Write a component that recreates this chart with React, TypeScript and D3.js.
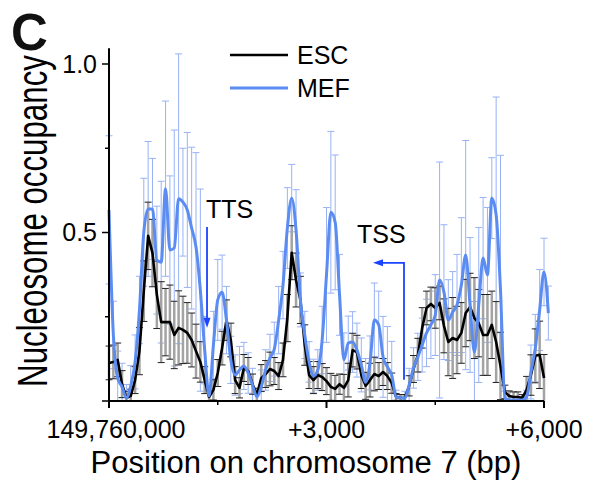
import React from 'react';
import * as d3 from 'd3';

// sampling grid: one value every 60 bp
const STEP_BP = 60;

const escValues = [
  0.113, 0.116, 0.122, 0.050, 0.009, 0.015, 0.062, 0.148, 0.326, 0.490,
  0.439, 0.315, 0.234, 0.234, 0.234, 0.196, 0.217, 0.211, 0.202, 0.181,
  0.148, 0.116, 0.062, 0.012, 0.033, 0.083, 0.157, 0.240, 0.181, 0.062,
  0.039, 0.098, 0.089, 0.050, 0.018, 0.068, 0.080, 0.095, 0.089, 0.074,
  0.122, 0.246, 0.440, 0.359, 0.300, 0.166, 0.077, 0.062, 0.077, 0.071,
  0.059, 0.042, 0.036, 0.050, 0.039, 0.062, 0.151, 0.145, 0.077, 0.045,
  0.062, 0.080, 0.074, 0.086, 0.074, 0.053, 0.012, 0.009, 0.009, 0.045,
  0.095, 0.136, 0.217, 0.276, 0.288, 0.276, 0.291, 0.223, 0.175, 0.187,
  0.181, 0.202, 0.261, 0.279, 0.246, 0.231, 0.196, 0.196, 0.226, 0.175,
  0.104, 0.027, 0.015, 0.012, 0.012, 0.009, 0.033, 0.077, 0.134, 0.137,
  0.068,
];
const escErrors = [
  0.05, 0.05, 0.05, 0.04, 0.02, 0.02, 0.04,
  0.07, 0.09, 0.1, 0.1,
  0.1, 0.12, 0.1, 0.11, 0.1, 0.11, 0.1, 0.09, 0.08, 0.08,
  0.06, 0.04, 0.02, 0.03, 0.04,
  0.05, 0.06, 0.05,
  0.04, 0.03, 0.04, 0.04, 0.03, 0.02, 0.04, 0.04, 0.05, 0.04, 0.04, 0.05,
  0.07, 0.08, 0.08, 0.07, 0.06,
  0.04, 0.04, 0.04, 0.04, 0.04, 0.04, 0.04, 0.03, 0.04, 0.05,
  0.05, 0.05, 0.04, 0.04, 0.05, 0.05, 0.04, 0.04, 0.04, 0.03,
  0.01, 0.01, 0.01,
  0.03, 0.04, 0.05, 0.06, 0.05,
  0.05, 0.06, 0.05, 0.08, 0.1, 0.12, 0.1, 0.09, 0.1, 0.1, 0.12, 0.1, 0.12, 0.12, 0.1, 0.12, 0.1,
  0.02, 0.015, 0.015, 0.015, 0.01,
  0.04, 0.06, 0.08, 0.1, 0.07,
];

const mefValues = [
  0.567, 0.196, 0.068, 0.042, 0.009, 0.045, 0.116, 0.270, 0.501, 0.570,
  0.570, 0.418, 0.412, 0.630, 0.448, 0.454, 0.600, 0.590, 0.567, 0.513,
  0.457, 0.329, 0.151, 0.015, 0.166, 0.300, 0.323, 0.240, 0.122, 0.077,
  0.092, 0.104, 0.083, 0.047, 0.012, 0.042, 0.092, 0.128, 0.154, 0.240,
  0.344, 0.513, 0.602, 0.507, 0.300, 0.196, 0.116, 0.074, 0.092, 0.181,
  0.374, 0.560, 0.530, 0.315, 0.122, 0.172, 0.175, 0.151, 0.107, 0.056,
  0.113, 0.240, 0.226, 0.131, 0.101, 0.077, 0.012, 0.009, 0.009, 0.047,
  0.098, 0.131, 0.166, 0.202, 0.226, 0.255, 0.359, 0.323, 0.240, 0.264,
  0.285, 0.344, 0.433, 0.285, 0.145, 0.285, 0.424, 0.374, 0.602, 0.552,
  0.329, 0.009, 0.003, 0.003, 0.003, 0.003, 0.012, 0.086, 0.157, 0.270,
  0.383, 0.261,
];
const mefErrors = [
  0.22, 0.1, 0.08, 0.07, 0.04, 0.06, 0.08, 0.1, 0.16,
  0.2, 0.15, 0.16, 0.24, 0.26, 0.22, 0.35, 0.43, 0.16, 0.23, 0.24, 0.28, 0.3,
  0.1, 0.03, 0.1, 0.12, 0.11, 0.1,
  0.07, 0.06, 0.07, 0.07, 0.06, 0.05, 0.02, 0.05, 0.06, 0.07, 0.08,
  0.1, 0.1, 0.12, 0.1, 0.12, 0.08,
  0.07, 0.06, 0.05, 0.06, 0.1,
  0.2, 0.24, 0.2, 0.12,
  0.08, 0.08, 0.09, 0.08, 0.08, 0.07, 0.08,
  0.11, 0.1, 0.12, 0.12, 0.1,
  0.02, 0.01, 0.02,
  0.05, 0.06, 0.07, 0.08, 0.1, 0.1,
  0.12, 0.35, 0.2, 0.12, 0.12, 0.15, 0.2, 0.34, 0.2, 0.15, 0.23, 0.18, 0.2, 0.12, 0.35, 0.4,
  0.02, 0.01, 0.01, 0.01, 0.01, 0.02,
  0.08, 0.1, 0.12, 0.1, 0.08,
];

const xMajorTicks = [0, 3000, 6000];
const xTickLabels = ['149,760,000', '+3,000', '+6,000'];
const xMinorTicks = [1500, 4500];
const yMajorTicks = [0, 0.5, 1.0];
const yTickLabels = ['', '0.5', '1.0'];
const yMinorTicks = [0.25, 0.75];

const seriesNames = ['ESC', 'MEF'];
const ESC_COLOR = '#000000';
const MEF_COLOR = '#5b8cf2';
const MEF_ERR_COLOR = '#98b2f6';
const ESC_ERR_COLOR = '#a3a3a3';
const ARROW_COLOR = '#1a44ff';

// annotations in data units
const ttsArrow = { bp: 1352, from: 0.516, to: 0.217 };
const tssArrow = { bp: 4069, from: 0.063, to: 0.41, toBp: 3641 };

const FONT = 'Liberation Sans, Arial, Helvetica, sans-serif';

export default function App() {
  const W = 595;
  const H = 485;
  const x = d3.scaleLinear().domain([0, 6000]).range([109, 544]);
  const y = d3.scaleLinear().domain([0, 1]).range([401, 64]);

  const escPts = escValues.map((v, i) => ({ bp: i * STEP_BP, v, e: escErrors[i] }));
  const mefPts = mefValues.map((v, i) => ({ bp: i * STEP_BP, v, e: mefErrors[i] }));

  const escLine = d3
    .line<{ bp: number; v: number }>()
    .x((d) => x(d.bp))
    .y((d) => y(d.v));
  const mefLine = d3
    .line<{ bp: number; v: number }>()
    .x((d) => x(d.bp))
    .y((d) => y(d.v))
    .curve(d3.curveMonotoneX);

  const cap = 3.5;

  const errBars = (pts: any[], stem: string, stemW: number, capColor: string, key: string) =>
    pts.map((d, i) => {
      const px = x(d.bp);
      const hi = y(d.v + d.e);
      const lo = y(Math.max(0, d.v - d.e));
      return (
        <g key={key + i}>
          <line x1={px} x2={px} y1={hi} y2={lo} stroke={stem} strokeWidth={stemW} />
          <line x1={px - cap} x2={px + cap} y1={hi} y2={hi} stroke={capColor} strokeWidth={1} />
          {d.v - d.e > 0 && (
            <line x1={px - cap} x2={px + cap} y1={lo} y2={lo} stroke={capColor} strokeWidth={1} />
          )}
        </g>
      );
    });

  const ttsX = x(ttsArrow.bp);
  const ttsY1 = y(ttsArrow.from);
  const ttsY2 = y(ttsArrow.to);
  const tssX = x(tssArrow.bp);
  const tssY1 = y(tssArrow.from);
  const tssY2 = y(tssArrow.to);
  const tssX2 = x(tssArrow.toBp);

  return (
    <svg
      width={W}
      height={H}
      style={{ position: 'absolute', left: 0, top: 0, background: '#fff' }}
      fontFamily={FONT}
    >
      <rect x={0} y={0} width={W} height={H} fill="#fff" />

      {/* panel letter */}
      <text x={11} y={50} fontSize={51} fontWeight="bold" fill="#111">C</text>

      {/* error bars */}
      {errBars(mefPts, MEF_ERR_COLOR, 1, MEF_ERR_COLOR, 'm')}
      {errBars(escPts, ESC_ERR_COLOR, 2.5, '#222', 'e')}

      {/* lines */}
      <path d={escLine(escPts) || ''} fill="none" stroke={ESC_COLOR} strokeWidth={2.6} strokeLinejoin="round" />
      <path d={mefLine(mefPts) || ''} fill="none" stroke={MEF_COLOR} strokeWidth={3} strokeLinejoin="round" />

      {/* axes */}
      <line x1={x(0)} x2={x(0)} y1={y(0) + 1} y2={y(1.047)} stroke="#000" strokeWidth={2} />
      <line x1={x(0) - 1} x2={x(6000)} y1={y(0)} y2={y(0)} stroke="#000" strokeWidth={2} />
      {yMajorTicks.map((t, i) => (
        <g key={'ym' + i}>
          <line x1={x(0) - 7} x2={x(0)} y1={y(t)} y2={y(t)} stroke="#000" strokeWidth={1.5} />
          {yTickLabels[i] && (
            <text x={97} y={y(t) + 8.5} fontSize={25} textAnchor="end" fill="#000">
              {yTickLabels[i]}
            </text>
          )}
        </g>
      ))}
      {yMinorTicks.map((t, i) => (
        <line key={'yn' + i} x1={x(0) - 4} x2={x(0)} y1={y(t)} y2={y(t)} stroke="#000" strokeWidth={1.5} />
      ))}
      {xMajorTicks.map((t, i) => (
        <g key={'xm' + i}>
          <line x1={x(t)} x2={x(t)} y1={y(0)} y2={y(0) + 7} stroke="#000" strokeWidth={2} />
          <text x={x(t) + (i === 0 ? 7 : 0)} y={438} fontSize={25} textAnchor="middle" fill="#000">
            {xTickLabels[i]}
          </text>
        </g>
      ))}
      {xMinorTicks.map((t, i) => (
        <line key={'xn' + i} x1={x(t)} x2={x(t)} y1={y(0)} y2={y(0) + 4} stroke="#000" strokeWidth={1.5} />
      ))}

      {/* axis titles */}
      <text x={306} y={473} fontSize={31} textAnchor="middle" fill="#000">
        Position on chromosome 7 (bp)
      </text>
      <text
        transform="translate(47,221) rotate(-90) scale(0.727,1)"
        fontSize={43}
        textAnchor="middle"
        fill="#000"
      >
        Nucleosome occupancy
      </text>

      {/* legend */}
      <line x1={230} x2={288} y1={55} y2={55} stroke={ESC_COLOR} strokeWidth={2.6} />
      <text x={297} y={64} fontSize={25} fill="#000">{seriesNames[0]}</text>
      <line x1={230} x2={288} y1={88} y2={88} stroke={MEF_COLOR} strokeWidth={3} />
      <text x={297} y={97} fontSize={25} fill="#000">{seriesNames[1]}</text>

      {/* TTS annotation */}
      <text x={206} y={218} fontSize={25} fill="#000">TTS</text>
      <line x1={ttsX} x2={ttsX} y1={ttsY1} y2={ttsY2 - 8} stroke={ARROW_COLOR} strokeWidth={1.8} />
      <path
        d={`M${ttsX - 3.5},${ttsY2 - 10} L${ttsX + 3.5},${ttsY2 - 10} L${ttsX},${ttsY2} Z`}
        fill={ARROW_COLOR}
      />

      {/* TSS annotation */}
      <text x={357} y={243} fontSize={25} fill="#000">TSS</text>
      <path
        d={`M${tssX},${tssY1} L${tssX},${tssY2} L${tssX2 + 8},${tssY2}`}
        fill="none"
        stroke={ARROW_COLOR}
        strokeWidth={1.8}
      />
      <path
        d={`M${tssX2 + 10},${tssY2 - 3.5} L${tssX2 + 10},${tssY2 + 3.5} L${tssX2},${tssY2} Z`}
        fill={ARROW_COLOR}
      />
    </svg>
  );
}
